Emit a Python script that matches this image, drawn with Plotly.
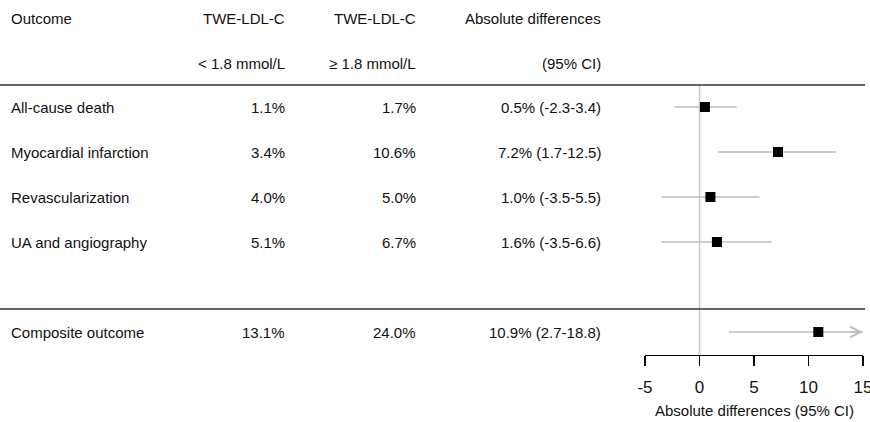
import plotly.graph_objects as go

outcomes = ["All-cause death", "Myocardial infarction", "Revascularization",
            "UA and angiography", "", "Composite outcome"]
pct_low = ["1.1%", "3.4%", "4.0%", "5.1%", "", "13.1%"]
pct_high = ["1.7%", "10.6%", "5.0%", "6.7%", "", "24.0%"]
diff = [0.5, 7.2, 1.0, 1.6, None, 10.9]
ci_lo = [-2.3, 1.7, -3.5, -3.5, None, 2.7]
ci_hi = [3.4, 12.5, 5.5, 6.6, None, 18.8]
header1 = ["Outcome", "TWE-LDL-C", "TWE-LDL-C", "Absolute differences"]
header2 = ["", "< 1.8 mmol/L", "\u2265 1.8 mmol/L", "(95% CI)"]
x_ticks = [-5, 0, 5, 10, 15]
x_range = [-5, 15]

W, H = 870, 422
FONT = "Liberation Sans, Arial, sans-serif"
TXT = "#111111"
GRAY = "#bdbdbd"
FS = 15

fig = go.Figure()

rows = list(range(len(outcomes)))

seg_x, seg_y = [], []
arrows = []
for i in rows:
    if diff[i] is None:
        continue
    hi = min(ci_hi[i], x_range[1])
    seg_x += [ci_lo[i], hi, None]
    seg_y += [i, i, None]
    if ci_hi[i] > x_range[1]:
        arrows.append((i, x_range[1]))

fig.add_trace(go.Scatter(x=seg_x, y=seg_y, mode="lines",
                         line=dict(color=GRAY, width=1.4),
                         hoverinfo="skip", showlegend=False))

for (i, hi) in arrows:
    fig.add_annotation(x=hi, y=i, ax=hi - 1.2, ay=i, xref="x", yref="y",
                       axref="x", ayref="y", text="", showarrow=True,
                       arrowhead=5, arrowsize=1.6, arrowwidth=1.3,
                       arrowcolor=GRAY, standoff=0, startstandoff=0)

px = [d for d in diff if d is not None]
py = [i for i in rows if diff[i] is not None]
fig.add_trace(go.Scatter(x=px, y=py, mode="markers",
                         marker=dict(symbol="square", size=10, color="black"),
                         hoverinfo="skip", showlegend=False))

fig.add_shape(type="line", xref="x", yref="y", x0=0, x1=0, y0=-0.49, y1=5.51,
              line=dict(color="#c8c8c8", width=1.5), layer="below")

for yv in [-0.49, 4.49]:
    fig.add_shape(type="line", xref="paper", yref="y", x0=0, x1=865 / W,
                  y0=yv, y1=yv, line=dict(color="#333333", width=1.6))

col_x = [10, 286, 417, 602]


def add_text(txt, xpix, yv, anchor):
    if not txt:
        return
    fig.add_annotation(x=xpix / W, y=yv, xref="paper", yref="y", text=txt,
                       showarrow=False, xanchor=anchor, yanchor="middle",
                       borderpad=0,
                       font=dict(family=FONT, size=FS, color=TXT))


anchors = ["left", "right", "right", "right"]
for c in range(4):
    add_text(header1[c], col_x[c], -1.96, anchors[c])
    add_text(header2[c], col_x[c], -0.97, anchors[c])

for i in rows:
    if diff[i] is None:
        continue
    add_text(outcomes[i], col_x[0], i, "left")
    add_text(pct_low[i], col_x[1], i, "right")
    add_text(pct_high[i], col_x[2], i, "right")
    add_text(f"{diff[i]:.1f}% ({ci_lo[i]:.1f}-{ci_hi[i]:.1f})", col_x[3], i, "right")

fig.add_annotation(x=(651 + 858) / 2 / W, y=1 - 410 / H, xref="paper", yref="paper",
                   text="Absolute differences (95% CI)", showarrow=False,
                   xanchor="center", yanchor="middle", borderpad=0,
                   font=dict(family=FONT, size=FS, color=TXT))

fig.update_layout(
    width=W, height=H,
    margin=dict(l=0, r=0, t=0, b=0, autoexpand=False),
    plot_bgcolor="white", paper_bgcolor="white",
    xaxis=dict(domain=[645 / W, 863 / W], range=x_range, tickvals=x_ticks,
               ticktext=[str(t) for t in x_ticks],
               anchor="free", position=1 - 355 / H, automargin=False,
               ticklabeloverflow="allow", ticklabelstandoff=6,
               showline=True, linecolor="black", linewidth=1.3,
               ticks="outside", ticklen=10, tickwidth=1.3, tickcolor="black",
               tickfont=dict(family=FONT, size=17, color=TXT),
               showgrid=False, zeroline=False, fixedrange=True),
    yaxis=dict(domain=[0, 1], range=[(H - 107) / 45, -107 / 45],
               visible=False, showgrid=False, zeroline=False, fixedrange=True),
    showlegend=False,
)

fig.write_html("out.html", config={"displayModeBar": False, "staticPlot": True},
               post_script="document.body.style.margin='0';document.body.style.overflow='hidden';")
